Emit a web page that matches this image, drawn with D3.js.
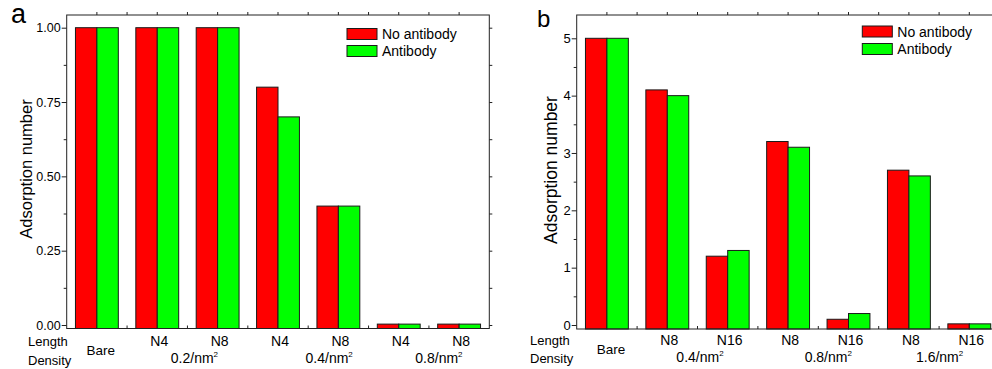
<!DOCTYPE html>
<html>
<head>
<meta charset="utf-8">
<script src="https://cdn.jsdelivr.net/npm/d3@7"></script>
<style>
  body { margin: 0; background: #fff; }
  text { font-family: "Liberation Sans", Arial, sans-serif; fill: #000; }
</style>
</head>
<body>
<script>
var WIDTH = 992;
var HEIGHT = 369;

// panel a
var lengthsA = ["Bare", "N4", "N8", "N4", "N8", "N4", "N8"];
var noAntibodyA = [1, 1, 1, 0.8, 0.4, 0.003, 0.003];
var antibodyA = [1, 1, 1, 0.7, 0.4, 0.003, 0.003];
var densityA = ["0.2", "0.4", "0.8"];
var densityGroupsA = [[1, 2], [3, 4], [5, 6]];
var yTicksA = [0, 0.25, 0.5, 0.75, 1];

// panel b
var lengthsB = ["Bare", "N8", "N16", "N8", "N16", "N8", "N16"];
var noAntibodyB = [5, 4.1, 1.2, 3.2, 0.1, 2.7, 0.02];
var antibodyB = [5, 4.0, 1.3, 3.1, 0.2, 2.6, 0.02];
var densityB = ["0.4", "0.8", "1.6"];
var densityGroupsB = [[1, 2], [3, 4], [5, 6]];
var yTicksB = [0, 1, 2, 3, 4, 5];

var seriesNames = ["No antibody", "Antibody"];
var seriesColors = ["#ff0000", "#00ff00"];

var svg = d3.select("body")
  .append("svg")
  .attr("width", WIDTH)
  .attr("height", HEIGHT);

function drawPanel(p) {
  var g = svg.append("g");

  var x = d3.scaleBand()
    .domain(d3.range(p.lengths.length))
    .range([p.left, p.right])
    .paddingInner(0.29)
    .paddingOuter(0.145);

  var sub = d3.scaleBand()
    .domain([0, 1])
    .range([0, x.bandwidth()]);

  var y = d3.scaleLinear()
    .domain([0, p.yTicks[p.yTicks.length - 1]])
    .range([p.zeroY, p.topTickY]);

  // bars, from the bottom of the frame
  var series = [p.noAb, p.ab];
  series.forEach(function (vals, s) {
    g.selectAll(".bar" + s)
      .data(vals)
      .enter()
      .append("rect")
      .attr("x", function (d, i) { return x(i) + sub(s); })
      .attr("width", sub.bandwidth())
      .attr("y", function (d) { return y(d); })
      .attr("height", function (d) { return p.bottom - y(d); })
      .attr("fill", seriesColors[s])
      .attr("stroke", "#1a1a1a")
      .attr("stroke-width", 1);
  });

  // frame
  g.append("rect")
    .attr("x", p.left)
    .attr("y", p.top)
    .attr("width", p.right - p.left)
    .attr("height", p.bottom - p.top)
    .attr("fill", "none")
    .attr("stroke", "#222")
    .attr("stroke-width", 1);

  // y axis, major + minor
  var step = p.yTicks[1] - p.yTicks[0];
  var minor = p.yTicks.slice(1).map(function (t) { return t - step / 2; });

  var yAxis = g.append("g")
    .attr("transform", "translate(" + p.left + ",0)")
    .call(d3.axisLeft(y).tickValues(p.yTicks).tickSize(5).tickPadding(1).tickFormat(p.fmt));
  yAxis.select(".domain").remove();
  yAxis.selectAll("line").attr("stroke", "#222");
  yAxis.selectAll("text")
    .style("font-family", '"Liberation Sans", Arial, sans-serif')
    .style("font-size", p.tickFont + "px")
    .attr("fill", "#000");

  var yMinor = g.append("g")
    .attr("transform", "translate(" + p.left + ",0)")
    .call(d3.axisLeft(y).tickValues(minor).tickSize(3).tickFormat(""));
  yMinor.select(".domain").remove();
  yMinor.selectAll("line").attr("stroke", "#222");

  // right side ticks
  var yRight = g.append("g")
    .attr("transform", "translate(" + p.right + ",0)")
    .call(d3.axisRight(y).tickValues(p.yTicks.concat(minor)).tickSize(3).tickFormat(""));
  yRight.select(".domain").remove();
  yRight.selectAll("line").attr("stroke", "#222");

  // category ticks on top (out) and bottom (in)
  var bounds = d3.range(1, p.lengths.length).map(function (i) { return x(i) - x.step() * 0.145; });
  var centers = d3.range(p.lengths.length).map(function (i) { return x(i) + x.bandwidth() / 2; });
  g.selectAll(".ttick")
    .data(bounds.concat(centers))
    .enter()
    .append("line")
    .attr("x1", function (d) { return d; })
    .attr("x2", function (d) { return d; })
    .attr("y1", p.top)
    .attr("y2", p.top - 3)
    .attr("stroke", "#222");
  g.selectAll(".btick")
    .data(bounds)
    .enter()
    .append("line")
    .attr("x1", function (d) { return d; })
    .attr("x2", function (d) { return d; })
    .attr("y1", p.bottom)
    .attr("y2", p.bottom - 3)
    .attr("stroke", "#222");

  // y title
  g.append("text")
    .attr("transform", "translate(" + p.titleX + "," + p.titleY + ") rotate(-90)")
    .attr("text-anchor", "middle")
    .style("font-size", p.titleFont + "px")
    .text("Adsorption number");

  // panel letter
  g.append("text")
    .attr("x", p.letterX)
    .attr("y", p.letterY)
    .style("font-size", p.letterFont + "px")
    .text(p.letter);

  // legend
  seriesNames.forEach(function (name, s) {
    g.append("rect")
      .attr("x", p.legX)
      .attr("y", p.legY + s * p.legGap)
      .attr("width", 30)
      .attr("height", 11)
      .attr("fill", seriesColors[s])
      .attr("stroke", "#1a1a1a");
    g.append("text")
      .attr("x", p.legX + 35)
      .attr("y", p.legY + 10.5 + s * p.legGap)
      .style("font-size", "14px")
      .text(name);
  });

  // bottom labels
  g.append("text")
    .attr("x", p.rowX)
    .attr("y", p.lenY)
    .style("font-size", "13px")
    .text("Length");
  g.append("text")
    .attr("x", p.rowX)
    .attr("y", p.lenY + 18.5)
    .style("font-size", "13px")
    .text("Density");

  g.selectAll(".cat")
    .data(p.lengths)
    .enter()
    .append("text")
    .attr("x", function (d, i) { return centers[i] + (i == 0 ? 4 : 2); })
    .attr("y", function (d, i) { return i == 0 ? p.lenY + 9 : p.lenY; })
    .attr("text-anchor", "middle")
    .style("font-size", function (d, i) { return i == 0 ? "13.5px" : "14px"; })
    .text(function (d) { return d; });

  p.density.forEach(function (lab, k) {
    var gr = p.densityGroups[k];
    var cx = (centers[gr[0]] + centers[gr[1]]) / 2 + p.densNudge[k];
    var t = g.append("text")
      .attr("x", cx)
      .attr("y", p.lenY + 17)
      .attr("text-anchor", "middle")
      .style("font-size", "14px");
    t.append("tspan").text(lab + "/nm");
    t.append("tspan").attr("dy", -6).style("font-size", "8px").text("2");
  });
}

drawPanel({
  lengths: lengthsA, noAb: noAntibodyA, ab: antibodyA,
  density: densityA, densityGroups: densityGroupsA, yTicks: yTicksA,
  fmt: d3.format(".2f"),
  left: 66.7, right: 489.3, top: 15, bottom: 328.5,
  zeroY: 325, topTickY: 27.7,
  tickFont: 12.5, titleFont: 16.5, titleX: 32, titleY: 169,
  letter: "a", letterX: 11, letterY: 23, letterFont: 27,
  legX: 347, legY: 28.5, legGap: 17,
  rowX: 28, lenY: 346, densNudge: [7, 21, 10]
});

drawPanel({
  lengths: lengthsB, noAb: noAntibodyB, ab: antibodyB,
  density: densityB, densityGroups: densityGroupsB, yTicks: yTicksB,
  fmt: d3.format("d"),
  left: 576.7, right: 999.5, top: 15, bottom: 329,
  zeroY: 325, topTickY: 38.3,
  tickFont: 13, titleFont: 17.5, titleX: 557, titleY: 170,
  letter: "b", letterX: 537, letterY: 26.5, letterFont: 24,
  legX: 862.3, legY: 26, legGap: 17.5,
  rowX: 530, lenY: 344.5, densNudge: [2.5, 10, 0.5]
});
</script>
</body>
</html>
